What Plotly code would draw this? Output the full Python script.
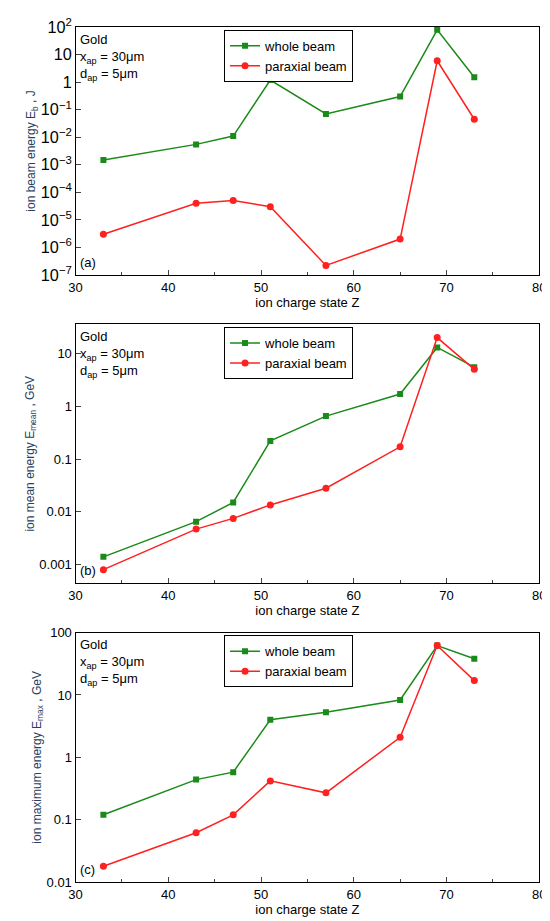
import plotly.graph_objects as go

Z = [33, 43, 47, 51, 57, 65, 69, 73]
a_whole = [1.5e-3, 5.5e-3, 1.1e-2, 1.2, 0.07, 0.3, 80, 1.5]
a_par = [3e-6, 4e-5, 5e-5, 3e-5, 2.2e-7, 2e-6, 6, 0.045]
b_whole = [0.0014, 0.0065, 0.015, 0.22, 0.65, 1.7, 13, 5.5]
b_par = [0.0008, 0.0047, 0.0075, 0.0135, 0.028, 0.17, 20, 5]
c_whole = [0.12, 0.44, 0.58, 4, 5.3, 8.3, 62, 38]
c_par = [0.018, 0.062, 0.12, 0.42, 0.27, 2.1, 62, 17]

G = "#1a8a1a"; R = "#ff2020"
fig = go.Figure()
panels = [
    ("", a_whole, a_par, [-7, 2], "ion beam energy E<sub>b</sub> , J", "(a)", [0.716, 0.991], "power"),
    ("2", b_whole, b_par, [-3.35, 1.55], "ion mean energy E<sub>mean</sub> , GeV", "(b)", [0.374, 0.661], None),
    ("3", c_whole, c_par, [-2, 2], "ion maximum energy E<sub>max</sub> , GeV", "(c)", [0.042, 0.319], None),
]
font = dict(family="Liberation Sans, Arial", size=13, color="black")
for i, (s, w, p, rng, yt, lab, dom, ef) in enumerate(panels):
    leg = "legend" + s
    fig.add_trace(go.Scatter(x=Z, y=w, mode="lines+markers", name="whole beam",
                             line=dict(color=G, width=1.5), marker=dict(symbol="square", size=6, color=G),
                             xaxis="x" + s, yaxis="y" + s, legend=leg))
    fig.add_trace(go.Scatter(x=Z, y=p, mode="lines+markers", name="paraxial beam",
                             line=dict(color=R, width=1.5), marker=dict(symbol="circle", size=7, color=R),
                             xaxis="x" + s, yaxis="y" + s, legend=leg))
    ax = dict(range=[30, 80], dtick=10, showline=True, mirror=True, linecolor="black", linewidth=1.2,
              ticks="inside", ticklen=5, showgrid=False, zeroline=False, tickfont=font,
              title=dict(text="ion charge state Z", font=font, standoff=4), anchor="y" + s,
              domain=[0.113, 0.978], minor=dict(ticks="inside", ticklen=3, dtick=5))
    ay = dict(type="log", range=rng, showline=True, mirror=True, linecolor="black", linewidth=1.2,
              ticks="inside", ticklen=5, showgrid=False, zeroline=False, tickfont=font, domain=dom,
              title=dict(text=yt, font=dict(family="Liberation Sans, Arial", size=12), standoff=2),
              anchor="x" + s)
    if ef:
        ay["exponentformat"] = "power"
        ay["dtick"] = 1
    else:
        ay["tickvals"] = [10 ** k for k in range(-3, 3)]
        ay["ticktext"] = ["0.001", "0.01", "0.1", "1", "10", "100"]
    fig.layout["xaxis" + s] = ax
    fig.layout["yaxis" + s] = ay
    fig.layout[leg] = dict(x=0.39, y=dom[1] - 0.003, xanchor="left", yanchor="top", bgcolor="white",
                           bordercolor="black", borderwidth=1, font=font, tracegroupgap=0)
    fig.add_annotation(xref="paper", yref="paper", x=0.118, y=dom[1] - 0.003, xanchor="left", yanchor="top",
                       showarrow=False, align="left", font=font,
                       text="Gold<br>x<sub>ap</sub> = 30μm<br>d<sub>ap</sub> = 5μm")
    fig.add_annotation(xref="paper", yref="paper", x=0.118, y=dom[0] + 0.003, xanchor="left", yanchor="bottom",
                       showarrow=False, font=font, text=lab)
fig.update_layout(width=550, height=921, margin=dict(l=0, r=0, t=0, b=0), plot_bgcolor="white",
                  paper_bgcolor="white", showlegend=True)
fig.write_html("out.html")
